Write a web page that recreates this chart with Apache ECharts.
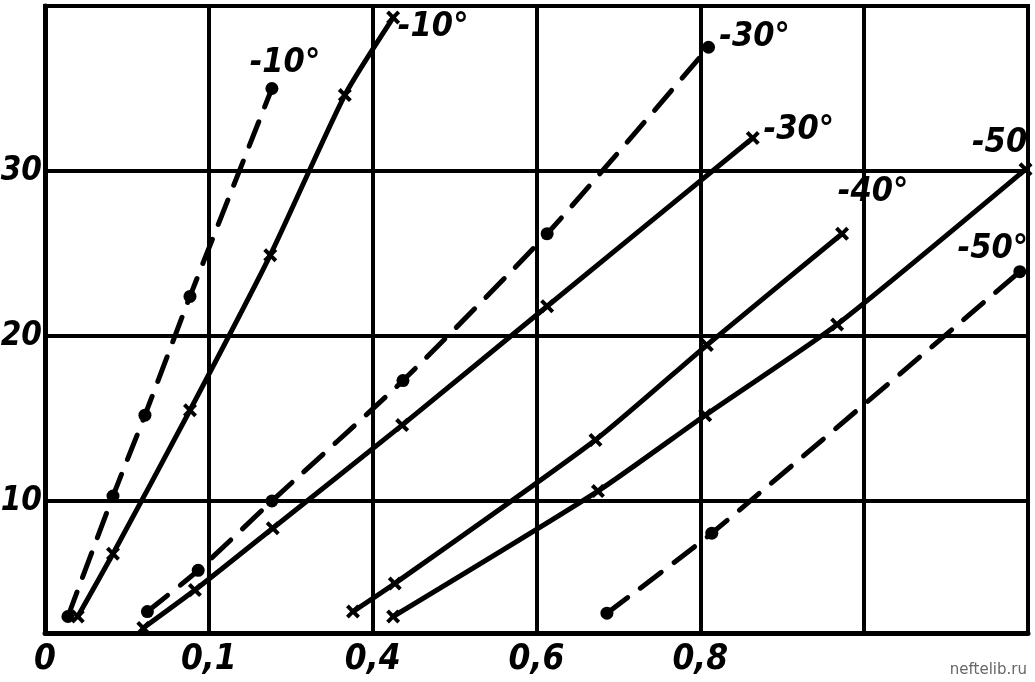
<!DOCTYPE html>
<html>
<head>
<meta charset="utf-8">
<script src="https://cdn.jsdelivr.net/npm/echarts@6/dist/echarts.min.js"></script>
<style>
html,body{margin:0;padding:0;background:#fff;}
#c{width:1035px;height:682px;}
</style>
</head>
<body>
<div id="c"></div>
<script>
// ---- data ----
const xTickLabels = ['0', '0,1', '0,4', '0,6', '0,8', '', ''];
const yTickValues = [10, 20, 30];

const dashed10x = [0.028, 0.083, 0.122, 0.177, 0.277];
const dashed10y = [3.0, 10.3, 15.2, 22.4, 35.0];
const solid10x = [0.040, 0.083, 0.177, 0.275, 0.366, 0.425];
const solid10y = [3.0, 6.8, 15.5, 24.9, 34.6, 39.3];
const dashed30x = [0.125, 0.187, 0.277, 0.437, 0.613, 0.810];
const dashed30y = [3.3, 5.8, 10.0, 17.3, 26.2, 37.5];
const solid30x = [0.120, 0.183, 0.278, 0.436, 0.613, 0.864];
const solid30y = [2.3, 4.6, 8.35, 14.6, 21.8, 32.0];
const solid40x = [0.376, 0.427, 0.672, 0.808, 0.973];
const solid40y = [3.3, 5.0, 13.7, 19.45, 26.2];
const solid50x = [0.425, 0.675, 0.806, 0.967, 1.197];
const solid50y = [3.0, 10.6, 15.2, 20.7, 30.1];
const dashed50x = [0.686, 0.814, 1.190];
const dashed50y = [3.2, 8.05, 23.9];

const curveLabels = ['-10°', '-10°', '-30°', '-30°', '-40°', '-50', '-50°'];

// ---- build ----
const FONT = "'Liberation Sans Narrow', 'DejaVu Sans Condensed', 'Liberation Sans', sans-serif";
const crossPath = 'path://M2,0 L5,3 L8,0 L10,2 L7,5 L10,8 L8,10 L5,7 L2,10 L0,8 L3,5 L0,2 Z';

function pairs(xs, ys) { return xs.map((x, i) => [x, ys[i]]); }

const specs = [
  { x: dashed10x, y: dashed10y, dashed: true,  label: curveLabels[0], off: [13, -25] },
  { x: solid10x,  y: solid10y,  dashed: false, label: curveLabels[1], off: [40, 10] },
  { x: dashed30x, y: dashed30y, dashed: true,  label: curveLabels[2], off: [46, -10] },
  { x: solid30x,  y: solid30y,  dashed: false, label: curveLabels[3], off: [46, -8] },
  { x: solid40x,  y: solid40y,  dashed: false, label: curveLabels[4], off: [31, -42] },
  { x: solid50x,  y: solid50y,  dashed: false, label: curveLabels[5], off: [-26, -26] },
  { x: dashed50x, y: dashed50y, dashed: true,  label: curveLabels[6], off: [-27, -22] }
];

const series = specs.map(s => {
  const pts = pairs(s.x, s.y);
  const data = pts.map((p, i) => {
    if (i === pts.length - 1) {
      return {
        value: p,
        label: {
          show: true, position: 'inside', formatter: s.label, offset: s.off,
          color: '#000', fontSize: 34, fontStyle: 'italic', fontWeight: 'bold', fontFamily: FONT
        }
      };
    }
    return { value: p };
  });
  return {
    type: 'line',
    data: data,
    smooth: 0.2,
    symbol: s.dashed ? 'circle' : crossPath,
    symbolSize: s.dashed ? 13 : 14,
    itemStyle: { color: '#000' },
    lineStyle: { color: '#000', width: 5, type: s.dashed ? [26, 16] : 'solid', cap: 'round' },
    z: 5,
    animation: false
  };
});

const chart = echarts.init(document.getElementById('c'));
chart.setOption({
  backgroundColor: '#fff',
  animation: false,
  grid: { left: 45, right: 7, top: 6, bottom: 49, show: true, borderColor: '#000', borderWidth: 4, containLabel: false, outerBoundsMode: 'none' },
  xAxis: {
    type: 'value', min: 0, max: 1.2, interval: 0.2,
    axisLine: { show: true, lineStyle: { color: '#000', width: 5 } },
    axisTick: { show: false },
    splitLine: { show: true, lineStyle: { color: '#000', width: 4 } },
    axisLabel: {
      margin: 9, color: '#000', fontSize: 35, fontStyle: 'italic', fontWeight: 'bold', fontFamily: FONT,
      formatter: v => xTickLabels[Math.round(v / 0.2)] || ''
    }
  },
  yAxis: {
    type: 'value', min: 2, max: 40,
    axisLine: { show: true, lineStyle: { color: '#000', width: 5 } },
    axisTick: { show: false, customValues: yTickValues },
    splitLine: { show: true, lineStyle: { color: '#000', width: 4 } },
    axisLabel: {
      customValues: yTickValues, margin: 3, color: '#000', fontSize: 33, fontStyle: 'italic', fontWeight: 'bold', fontFamily: FONT
    }
  },
  graphic: [{
    type: 'text', right: 8, bottom: 4,
    style: { text: 'neftelib.ru', fill: '#666', font: "15px 'DejaVu Sans', sans-serif" }
  }],
  series: series
});
</script>
</body>
</html>
